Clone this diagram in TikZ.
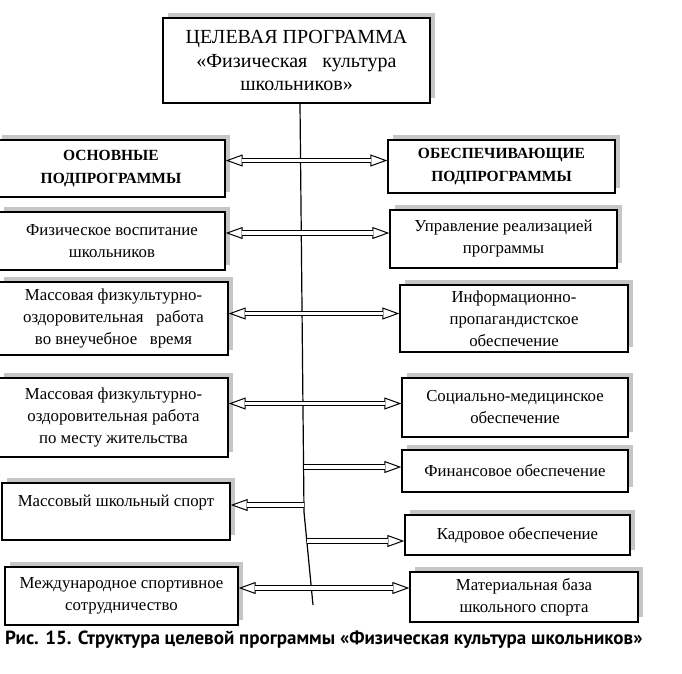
\documentclass[tikz,border=0pt]{standalone}
\usepackage{fontspec}
\setmainfont{Liberation Serif}
\newfontfamily\capfont{PT Sans}
\usetikzlibrary{arrows.meta,shadows}
\begin{document}
\begin{tikzpicture}[x=1pt,y=-1pt,
  box/.style={draw, line width=1.4pt, fill=white, align=center, inner sep=0pt,
    font=\fontsize{16.8}{22}\selectfont,
    general shadow={fill=gray!45, shadow xshift=5pt, shadow yshift=5pt}},
  hbox/.style={box, font=\fontsize{15.5}{23}\selectfont\bfseries},
  hollowtip/.tip={Triangle[open, fill=white, length=17pt, width=12pt, line width=1pt]},
  dar/.style={line width=1pt, hollowtip-hollowtip,
    postaction={draw, -, double, double distance=3.6pt, line width=1pt,
      shorten <=16pt, shorten >=16pt}},
  sar/.style={line width=1pt, -hollowtip,
    postaction={draw, -, double, double distance=3.6pt, line width=1pt,
      shorten >=16pt}},
  vline/.style={line width=1.2pt}]
\useasboundingbox (0,0) rectangle (682,673);
% top box
\node[box, line width=2.2pt, minimum width=267pt, minimum height=85pt,
  font=\fontsize{20}{23.5}\selectfont] (T) at (296.5,60.5)
  {ЦЕЛЕВАЯ ПРОГРАММА\\«Физическая\ \ \ культура\\школьников»};
% left column
\node[hbox, minimum width=228pt, minimum height=57pt] (L1) at (111,168.5) {ОСНОВНЫЕ\\ПОДПРОГРАММЫ};
\node[box, minimum width=226pt, minimum height=58pt] (L2) at (112,241) {Физическое воспитание\\школьников};
\node[box, minimum width=229pt, minimum height=73pt] (L3) at (113.5,318.5) {Массовая физкультурно-\\оздоровительная\ \ \ работа\\во внеучебное\ \ \ время};
\node[box, minimum width=229pt, minimum height=79pt] (L4) at (113.5,417.5) {Массовая физкультурно-\\оздоровительная работа\\по\ месту жительства};
\node[box, minimum width=228pt, minimum height=57pt] (L5) at (116,511.5) {Массовый школьный спорт\\ \mbox{}};
\node[box, minimum width=233pt, minimum height=58pt] (L6) at (121.5,596) {Международное спортивное\\сотрудничество};
% right column
\node[hbox, minimum width=227pt, minimum height=53pt] (R1) at (501.5,166.5) {ОБЕСПЕЧИВАЮЩИЕ\\ПОДПРОГРАММЫ};
\node[box, minimum width=227pt, minimum height=58pt] (R2) at (503.5,239) {Управление реализацией\\программы};
\node[box, minimum width=228pt, minimum height=67pt] (R3) at (514,318.5) {Информационно-\\пропагандистское\\обеспечение};
\node[box, minimum width=226pt, minimum height=59pt] (R4) at (515,407.5) {Социально-медицинское\\обеспечение};
\node[box, minimum width=226pt, minimum height=42pt] (R5) at (515,471) {Финансовое обеспечение};
\node[box, minimum width=225pt, minimum height=40pt] (R6) at (517.5,535) {Кадровое обеспечение};
\node[box, minimum width=228pt, minimum height=50pt] (R7) at (524,597) {Материальная база\\школьного спорта};
% spine
\coordinate (S2) at (304,512);
\coordinate (S3) at (313,605);
\draw[vline] (T.south -| 300,0) -- (S2) -- (S3);
\coordinate (J5) at (303.5,467);
\coordinate (J6) at (304,505);
\coordinate (J7) at (307,541);
% connectors
\draw[dar] ([yshift=8pt]L1.east) -- ([yshift=6pt]R1.west);
\draw[dar] ([yshift=8pt]L2.east) -- ([yshift=6pt]R2.west);
\draw[dar] ([yshift=5pt]L3.east) -- ([yshift=5pt]R3.west);
\draw[dar] ([yshift=14pt]L4.east) -- ([yshift=4pt]R4.west);
\draw[sar] (J5) -- (R5.west |- J5);
\draw[sar] (J6) -- (L5.east |- J6);
\draw[sar] (J7) -- (R6.west |- J7);
\draw[dar] ([yshift=8pt]L6.east) -- ([yshift=9pt]R7.west);
% caption
\node[anchor=west, inner sep=0pt, font=\capfont\bfseries\fontsize{19}{22}\selectfont] (cap) at (5,640)
  {Рис. 15. Структура целевой программы «Физическая культура школьников»};
\end{tikzpicture}
\end{document}
